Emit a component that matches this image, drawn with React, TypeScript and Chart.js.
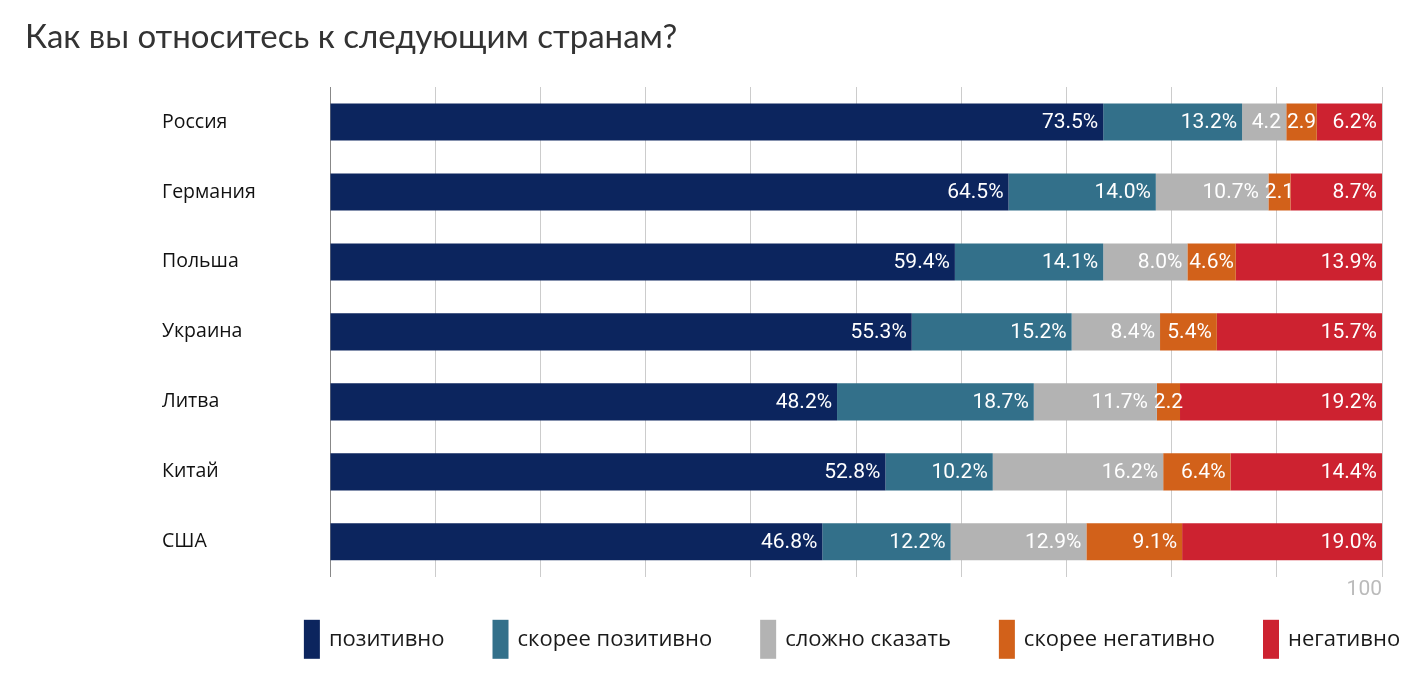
import React, { useEffect, useRef } from "react";
import { Chart, registerables } from "chart.js";

Chart.register(...registerables);

const titleText = "Как вы относитесь к следующим странам?";
const categories = ["Россия", "Германия", "Польша", "Украина", "Литва", "Китай", "США"];
const seriesNames = ["позитивно", "скорее позитивно", "сложно сказать", "скорее негативно", "негативно"];
const positive = [73.5, 64.5, 59.4, 55.3, 48.2, 52.8, 46.8];
const ratherPositive = [13.2, 14.0, 14.1, 15.2, 18.7, 10.2, 12.2];
const hardToSay = [4.2, 10.7, 8.0, 8.4, 11.7, 16.2, 12.9];
const ratherNegative = [2.9, 2.1, 4.6, 5.4, 2.2, 6.4, 9.1];
const negative = [6.2, 8.7, 13.9, 15.7, 19.2, 14.4, 19.0];
const seriesColors = ["#0c255e", "#33708a", "#b3b3b3", "#d2611a", "#cd2230"];
const axisMax = 100;
const axisStep = 10;
const shownTick = "100";

// value labels inside the stacked segments, right-aligned, avoiding collisions
const valueLabels = {
  id: "valueLabels",
  afterDatasetsDraw(chart: any) {
    const ctx = chart.ctx;
    ctx.save();
    ctx.font = "400 21px Roboto";
    ctx.fillStyle = "#ffffff";
    ctx.textBaseline = "middle";
    ctx.textAlign = "left";
    const n = chart.data.labels.length;
    const dsCount = chart.data.datasets.length;
    const pad = 5;
    for (let i = 0; i < n; i++) {
      let nextLeft = Infinity;
      for (let di = dsCount - 1; di >= 0; di--) {
        const el: any = chart.getDatasetMeta(di).data[i];
        const v = chart.data.datasets[di].data[i];
        const segL = Math.min(el.x, el.base);
        const segR = Math.max(el.x, el.base);
        const w = segR - segL;
        let t = v.toFixed(1) + "%";
        if (ctx.measureText(t).width + 2 > w) t = v.toFixed(1);
        const tw = ctx.measureText(t).width;
        let right: number;
        if (tw + 2 * pad > w) right = (segL + segR) / 2 + tw / 2;
        else right = segR - pad;
        right = Math.min(right, nextLeft - 6);
        ctx.fillText(t, right - tw, el.y + 1);
        nextLeft = right - tw;
      }
    }
    ctx.restore();
  },
};

// legend with tall narrow swatches, drawn from the datasets
const boxLegend = {
  id: "boxLegend",
  afterDraw(chart: any) {
    const ctx = chart.ctx;
    const ds = chart.data.datasets;
    ctx.save();
    ctx.font = "400 22px 'Open Sans'";
    ctx.textBaseline = "middle";
    ctx.textAlign = "left";
    const boxW = 16;
    const boxH = 39;
    const textGap = 9;
    const itemGap = 48;
    const widths = ds.map((d: any) => ctx.measureText(d.label).width);
    const total =
      widths.reduce((a: number, w: number) => a + boxW + textGap + w, 0) + itemGap * (ds.length - 1);
    const ca = chart.chartArea;
    let x = (ca.left + ca.right) / 2 - 4 - total / 2;
    const top = ca.bottom + 43;
    ds.forEach((d: any, i: number) => {
      ctx.fillStyle = d.backgroundColor;
      ctx.fillRect(x, top, boxW, boxH);
      ctx.fillStyle = "#1a1a1a";
      ctx.fillText(d.label, x + boxW + textGap, top + boxH / 2);
      x += boxW + textGap + widths[i] + itemGap;
    });
    ctx.restore();
  },
};

export default function App() {
  const ref = useRef<HTMLCanvasElement | null>(null);

  useEffect(() => {
    if (!ref.current) return;
    const data = [positive, ratherPositive, hardToSay, ratherNegative, negative];
    const chart = new Chart(ref.current, {
      type: "bar",
      data: {
        labels: categories,
        datasets: data.map((d, i) => ({
          label: seriesNames[i],
          data: d,
          backgroundColor: seriesColors[i],
          borderWidth: 0,
          barPercentage: 0.53,
          categoryPercentage: 1,
        })),
      },
      options: {
        indexAxis: "y",
        responsive: false,
        animation: false,
        layout: { padding: { left: 154, right: 30, top: 79, bottom: 70 } },
        plugins: {
          title: { display: false },
          tooltip: { enabled: false },
          legend: { display: false },
        },
        scales: {
          x: {
            stacked: true,
            min: 0,
            max: axisMax,
            border: { display: false },
            grid: { color: "#cccccc", lineWidth: 1, drawTicks: false },
            ticks: {
              stepSize: axisStep,
              autoSkip: false,
              maxRotation: 0,
              align: "end",
              padding: 0,
              color: "#bbbbbb",
              font: { family: "Roboto", size: 21 },
              callback: (v: any) => (String(v) === shownTick ? shownTick : ""),
            },
          },
          y: {
            stacked: true,
            afterFit: (s: any) => {
              s.width = 168;
            },
            border: { display: true, color: "#888888", width: 1 },
            grid: { display: false },
            ticks: {
              crossAlign: "far",
              color: "#111",
              font: { family: "'Open Sans'", size: 19.5 },
            },
          },
        },
      },
      plugins: [valueLabels, boxLegend],
    });
    return () => chart.destroy();
  }, []);

  return (
    <div style={{ position: "relative", width: 1404, height: 664 }}>
      <div
        style={{
          position: "absolute",
          left: 17,
          top: 7,
          fontFamily: "Lato",
          fontSize: 33,
          color: "#333",
          whiteSpace: "nowrap",
        }}
      >
        {titleText}
      </div>
      <canvas ref={ref} width={1404} height={664} style={{ display: "block" }} />
    </div>
  );
}
